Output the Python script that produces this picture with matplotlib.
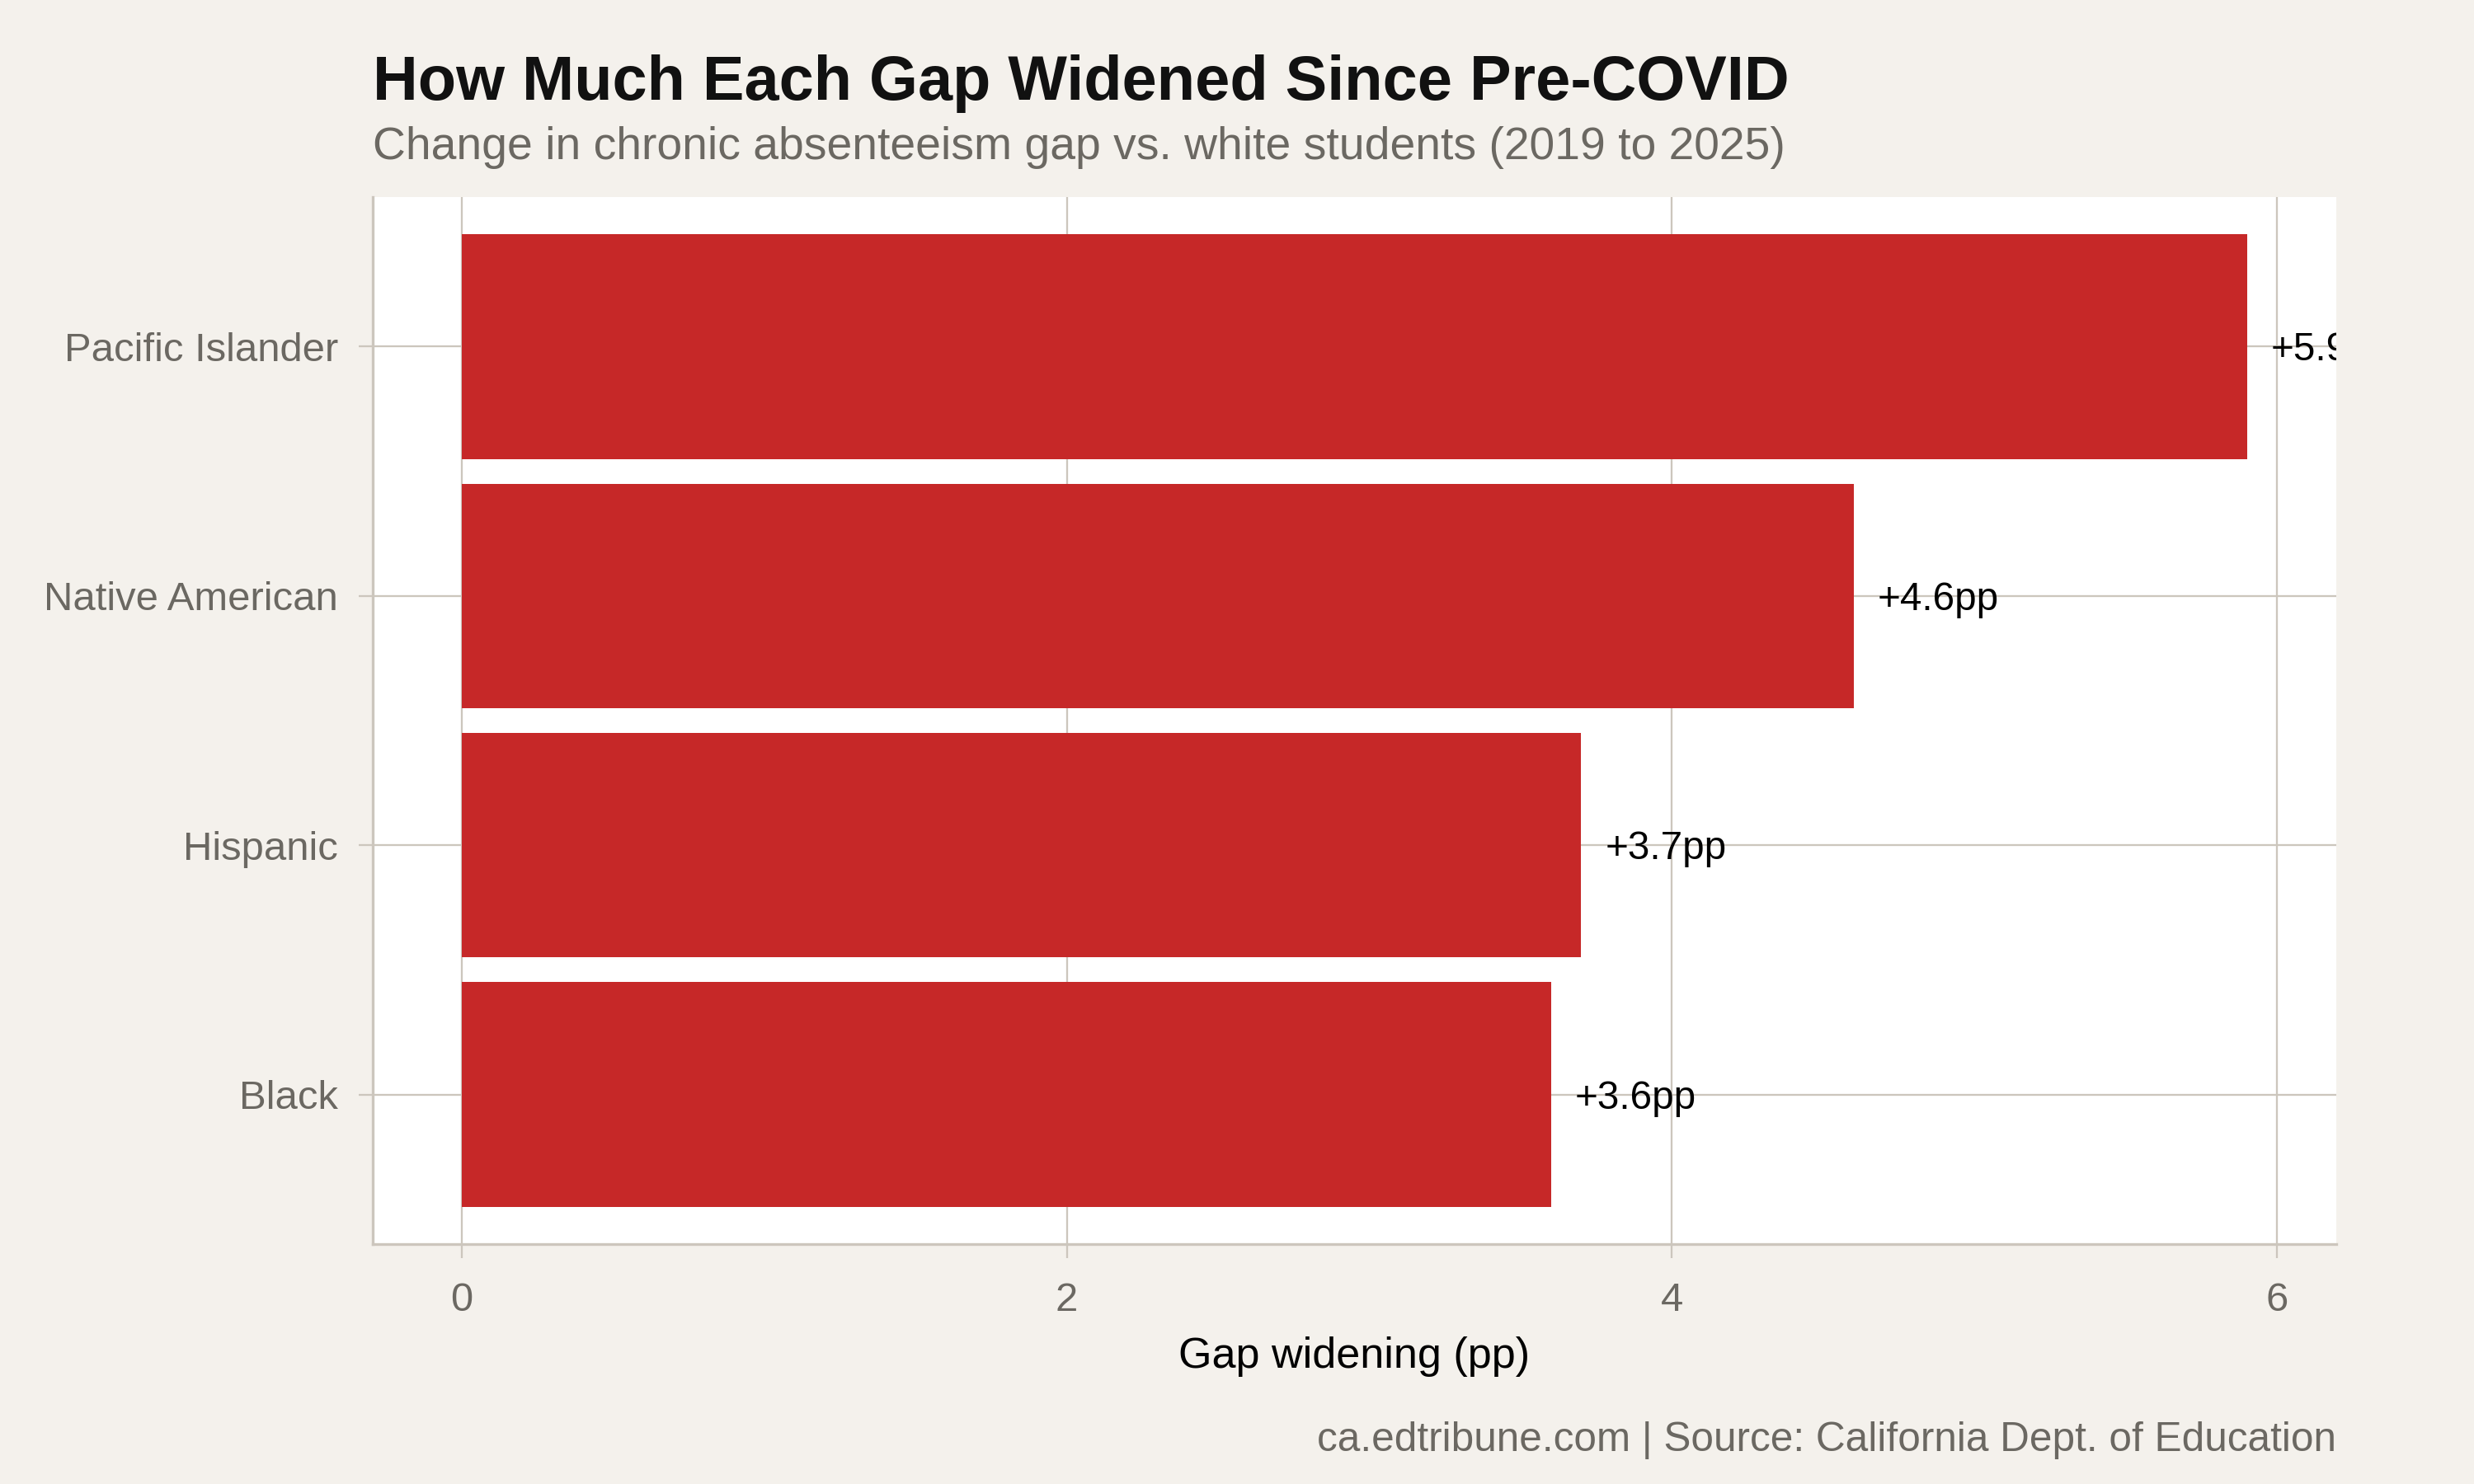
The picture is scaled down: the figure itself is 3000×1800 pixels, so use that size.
import matplotlib.pyplot as plt

plt.rcParams['font.family'] = ['Liberation Sans', 'DejaVu Sans']

groups = ["Black", "Hispanic", "Native American", "Pacific Islander"]
widening = [3.6, 3.7, 4.6, 5.9]
labels = ["+3.6pp", "+3.7pp", "+4.6pp", "+5.9pp"]

bg = "#f4f1ec"
line_col = "#ccc6bd"
grey_txt = "#6b6862"
bar_col = "#c62828"

fig = plt.figure(figsize=(10, 6), dpi=300, facecolor=bg)
ax = fig.add_axes([0.1505, 0.1617, 0.7938, 0.7055])
ax.set_facecolor("white")

ypos = list(range(1, len(groups) + 1))
ax.barh(ypos, widening, height=0.9, color=bar_col, zorder=2)
for y, v, lab in zip(ypos, widening, labels):
    # nudge down a hair so the text sits on the gridline like the original
    ax.text(v + 0.08, y - 0.015, lab, va="center", ha="left", fontsize=11.45, color="black", zorder=3, clip_on=True)

ax.set_xlim(-0.295, 6.195)
ax.set_ylim(0.4, 4.6)
ax.set_xticks([0, 2, 4, 6])
ax.set_yticks(ypos)
ax.set_yticklabels(groups)
ax.grid(True, color=line_col, linewidth=0.55, zorder=0)
ax.set_axisbelow(True)

for side in ["top", "right"]:
    ax.spines[side].set_visible(False)
for side in ["left", "bottom"]:
    ax.spines[side].set_color(line_col)
    ax.spines[side].set_linewidth(0.8)

ax.tick_params(axis="both", colors=line_col, labelcolor=grey_txt, labelsize=11.75, width=0.55, length=4)
ax.tick_params(axis="x", pad=7)
ax.tick_params(axis="y", pad=6)
ax.set_xlabel("Gap widening (pp)", fontsize=12.5, color="black", labelpad=5)

fig.text(0.1505, 0.933, "How Much Each Gap Widened Since Pre-COVID", fontsize=18.2, fontweight="bold", color="#111111", ha="left", va="baseline")
fig.text(0.1505, 0.893, "Change in chronic absenteeism gap vs. white students (2019 to 2025)", fontsize=13.25, color=grey_txt, ha="left", va="baseline")
fig.text(0.9443, 0.022, "ca.edtribune.com | Source: California Dept. of Education", fontsize=11.9, color=grey_txt, ha="right", va="baseline")

fig.savefig("out.png", dpi=300, facecolor=bg)
